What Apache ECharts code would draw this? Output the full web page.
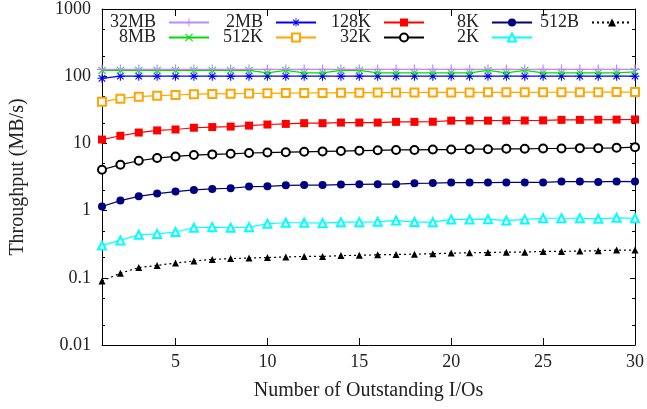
<!DOCTYPE html>
<html>
<head>
<meta charset="utf-8">
<script src="https://cdn.jsdelivr.net/npm/echarts@6/dist/echarts.min.js"></script>
<style>html,body{margin:0;padding:0;background:#fff}#c{width:647px;height:409px}</style>
</head>
<body>
<div id="c"></div>
<script>
// ---- data ----
const ios = [1,2,3,4,5,6,7,8,9,10,11,12,13,14,15,16,17,18,19,20,21,22,23,24,25,26,27,28,29,30];
const seriesNames = ['32MB','8MB','2MB','512K','128K','32K','8K','2K','512B'];
const s32MB = [126,126,126,126,126,126,126,126,126,126,126,126,126,126,126,126,126,126,126,126,126,126,126,126,126,126,126,126,126,126];
const s8MB  = [122,122,122,122,122,122,122,122,122,112,122,112,112,122,122,112,112,112,112,112,112,122,112,122,112,112,112,112,112,116];
const s2MB  = [93,100,100,100,100,100,100,100,100,100,100,100,100,100,100,100,100,100,100,100,100,100,100,100,100,100,100,100,100,100];
const s512K = [41.5,46.3,49.6,51.3,52.5,54,54.5,55,55.3,55.7,56,56.2,56.4,56.5,56.8,57,57,57.2,57.3,57.3,57.4,57.5,57.5,57.6,57.7,57.8,57.8,57.9,58,58];
const s128K = [11.4,13.0,14.5,15.6,16.1,17.1,17.5,17.8,18.4,19.1,19.5,20.0,20.0,20.4,20.4,20.4,20.9,20.9,21.0,21.8,21.8,21.8,21.9,21.9,22.0,22.4,22.4,22.5,22.6,22.7];
const s32K  = [4.06,4.82,5.52,6.05,6.4,6.7,6.86,7.0,7.2,7.3,7.4,7.5,7.6,7.7,7.8,7.9,8.0,8.0,8.1,8.1,8.2,8.2,8.3,8.3,8.4,8.4,8.5,8.5,8.6,8.8];
const s8K   = [1.15,1.41,1.63,1.79,1.92,2.03,2.10,2.15,2.28,2.30,2.38,2.40,2.40,2.44,2.46,2.47,2.47,2.55,2.57,2.61,2.61,2.61,2.63,2.63,2.63,2.70,2.70,2.67,2.72,2.70];
const s2K   = [0.303,0.36,0.437,0.45,0.48,0.556,0.567,0.556,0.567,0.637,0.659,0.66,0.65,0.673,0.673,0.68,0.713,0.675,0.673,0.738,0.738,0.745,0.71,0.74,0.77,0.77,0.77,0.755,0.78,0.77];
const s512B = [0.0897,0.117,0.142,0.153,0.166,0.178,0.188,0.193,0.197,0.2,0.204,0.208,0.208,0.214,0.216,0.22,0.222,0.225,0.228,0.233,0.235,0.238,0.241,0.241,0.247,0.247,0.25,0.253,0.259,0.259];
const xTicks = [5,10,15,20,25,30];
const yMajorTicks = [0.01,0.1,1,10,100,1000];
const yMajorLabels = ['0.01','0.1','1','10','100','1000'];
const yMinorTicks = [0.02,0.05,0.2,0.5,2,5,20,50,200,500];
const xTitle = 'Number of Outstanding I/Os';
const yTitle = 'Throughput (MB/s)';

// ---- styles ----
const FONT = 'Liberation Serif';
const TXT = '#222';
const PLUS = 'path://M4.4,0h1.2v10h-1.2z M0,4.4h10v1.2h-10z';
const CROSS = 'path://M0,0.85L0.85,0L10,9.15L9.15,10Z M9.15,0L10,0.85L0.85,10L0,9.15Z';
const STAR = 'path://M4.4,0h1.2v10h-1.2z M0,4.4h10v1.2h-10z M1,1.85L1.85,1L9,8.15L8.15,9Z M8.15,1L9,1.85L1.85,9L1,8.15Z';
const styles = [
  {color:'#bb88ff', symbol:PLUS, size:10},
  {color:'#00dd00', symbol:CROSS, size:8},
  {color:'#0000ff', symbol:STAR, size:9},
  {color:'#ffa500', symbol:'emptyRect', size:8},
  {color:'#ff0000', symbol:'rect', size:8},
  {color:'#000000', symbol:'emptyCircle', size:8},
  {color:'#000080', symbol:'circle', size:8},
  {color:'#00ffff', symbol:'emptyTriangle', size:8},
  {color:'#000000', symbol:'triangle', size:7, dash:[2,3]}
];
const values = [s32MB,s8MB,s2MB,s512K,s128K,s32K,s8K,s2K,s512B];
// legend placement: column by column, 2 rows
const legendRight = [437,437,330,330,222,222,114,114,14];
const legendTop   = [13.5,28.5,13.5,28.5,13.5,28.5,13.5,28.5,13.5];

const series = seriesNames.map((n,i)=>({
  name:n, type:'line', xAxisIndex:0, yAxisIndex:0,
  data: ios.map((x,j)=>[x, values[i][j]]),
  symbol: styles[i].symbol, symbolSize: styles[i].size,
  showSymbol:true,
  itemStyle:{color:styles[i].color, borderWidth:1.2},
  lineStyle:{color:styles[i].color, width:1.2, type: styles[i].dash || 'solid'},
  emphasis:{disabled:true},
  z: 10 + (9-i)
}));

const legends = seriesNames.map((n,i)=>({
  data:[n], right:legendRight[i], top:legendTop[i], align:'right', orient:'horizontal',
  itemWidth:40, itemHeight:10, padding:0, itemGap:0, selectedMode:false,
  textStyle:{fontFamily:FONT, fontSize:18, color:TXT, lineHeight:18, padding:[0,8,0,0]}
}));

const axisLineStyle = {show:true, onZero:false, lineStyle:{color:'#000', width:1}};
const option = {
  animation:false,
  backgroundColor:'#fff',
  grid:{left:101, right:11, top:8, bottom:64, containLabel:false},
  legend: legends,
  xAxis:[
    {type:'value', min:1, max:30, position:'bottom',
     axisLine:axisLineStyle,
     axisTick:{show:true, inside:true, length:7, customValues:xTicks, lineStyle:{color:'#000'}},
     axisLabel:{show:true, customValues:xTicks, fontFamily:FONT, fontSize:18, color:TXT, margin:8},
     splitLine:{show:false},
     name:xTitle, nameLocation:'middle', nameGap:36,
     nameTextStyle:{fontFamily:FONT, fontSize:20, color:TXT}},
    {type:'value', min:1, max:30, position:'top',
     axisLine:axisLineStyle,
     axisTick:{show:true, inside:true, length:7, customValues:xTicks, lineStyle:{color:'#000'}},
     axisLabel:{show:false}, splitLine:{show:false}}
  ],
  yAxis:[
    {type:'log', logBase:10, min:0.01, max:1000, position:'left',
     axisLine:axisLineStyle,
     axisTick:{show:true, inside:true, length:5, customValues:yMajorTicks, lineStyle:{color:'#000'}},
     axisLabel:{show:true, customValues:yMajorTicks, fontFamily:FONT, fontSize:18, color:TXT, margin:11,
       formatter:(v)=>{const k=yMajorTicks.findIndex(t=>Math.abs(Math.log10(t)-Math.log10(v))<1e-6);return k>=0?yMajorLabels[k]:'';}},
     splitLine:{show:false},
     name:yTitle, nameLocation:'middle', nameGap:74,
     nameTextStyle:{fontFamily:FONT, fontSize:20, color:TXT}},
    {type:'log', logBase:10, min:0.01, max:1000, position:'left',
     axisLine:{show:false},
     axisTick:{show:true, inside:true, length:3, customValues:yMinorTicks, lineStyle:{color:'#000'}},
     axisLabel:{show:false}, splitLine:{show:false}},
    {type:'log', logBase:10, min:0.01, max:1000, position:'right',
     axisLine:axisLineStyle,
     axisTick:{show:true, inside:true, length:5, customValues:yMajorTicks, lineStyle:{color:'#000'}},
     axisLabel:{show:false}, splitLine:{show:false}},
    {type:'log', logBase:10, min:0.01, max:1000, position:'right',
     axisLine:{show:false},
     axisTick:{show:true, inside:true, length:3, customValues:yMinorTicks, lineStyle:{color:'#000'}},
     axisLabel:{show:false}, splitLine:{show:false}}
  ],
  series: series
};
const chart = echarts.init(document.getElementById('c'), null, {renderer:'canvas'});
chart.setOption(option);
</script>
</body>
</html>
